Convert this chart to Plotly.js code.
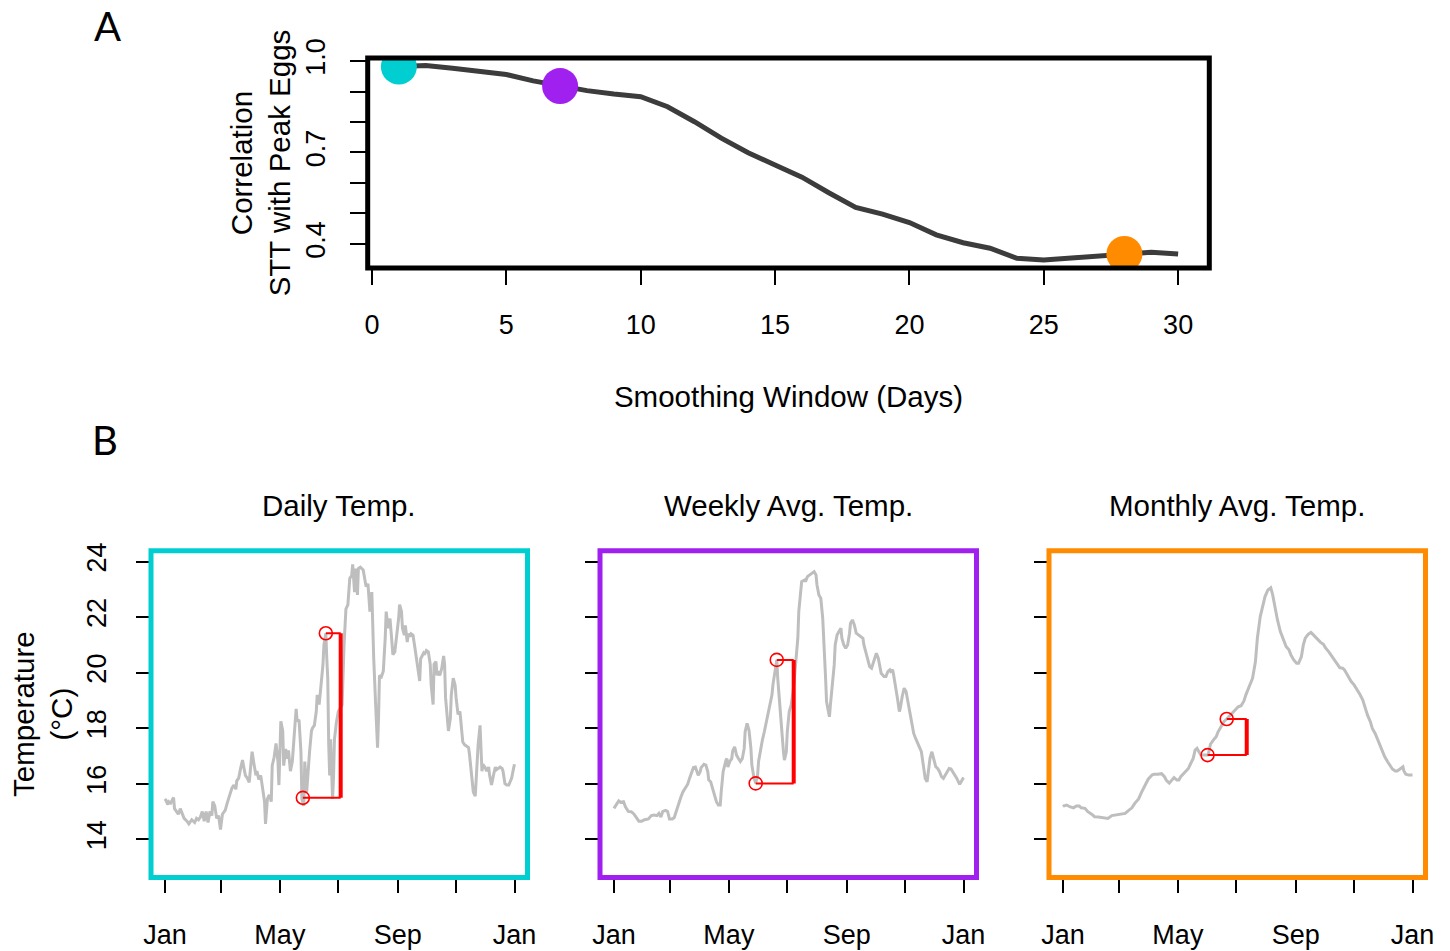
<!DOCTYPE html>
<html>
<head>
<meta charset="utf-8">
<script src="https://cdn.plot.ly/plotly-3.0.1.min.js"></script>
<style>
  html, body { margin: 0; padding: 0; background: #ffffff; }
  #chart { width: 1450px; height: 951px; }
</style>
</head>
<body>
<div id="chart"></div>
<script>
// ---------------- DATA ----------------
// Panel A: correlation of smoothed temperature (STT) with peak eggs
const smoothingWindow = [1, 2, 3, 4, 5, 6, 7, 8, 9, 10, 11, 12, 13, 14, 15, 16, 17, 18, 19, 20, 21, 22, 23, 24, 25, 26, 27, 28, 29, 30];
const correlation = [0.982, 0.985, 0.976, 0.968, 0.956, 0.935, 0.918, 0.903, 0.892, 0.883, 0.850, 0.801, 0.747, 0.699, 0.659, 0.619, 0.568, 0.520, 0.498, 0.470, 0.430, 0.404, 0.386, 0.353, 0.347, 0.353, 0.362, 0.367, 0.373, 0.367];
const highlightWindows = [1, 7, 28];

// Panel B: temperature series (day of year, °C)
const dailyDay = [0, 1, 3, 4, 6, 9, 10, 12, 14, 16, 18, 20, 23, 25, 28, 31, 33, 35, 37, 39, 41, 43, 45, 47, 49, 50, 52, 54, 56, 58, 60, 63, 65, 68, 70, 72, 74, 75, 77, 79, 81, 82, 84, 86, 88, 90, 91, 93, 95, 96, 98, 100, 102, 104, 105, 107, 109, 111, 112, 114, 116, 118, 119, 121, 123, 124, 126, 128, 129, 131, 133, 135, 137, 138, 140, 142, 143, 145, 146, 148, 150, 151, 153, 154, 156, 158, 159, 161, 162, 164, 165, 166, 168, 169, 170, 171, 172, 173, 175, 176, 177, 179, 181, 185, 187, 189, 191, 193, 195, 196, 198, 199, 201, 202, 204, 207, 209, 210, 212, 214, 216, 217, 218, 220, 222, 223, 224, 226, 228, 230, 231, 233, 235, 237, 238, 240, 242, 244, 245, 247, 248, 250, 251, 253, 254, 256, 257, 259, 261, 263, 264, 266, 267, 270, 271, 273, 275, 277, 278, 280, 281, 283, 284, 285, 287, 289, 291, 292, 293, 295, 296, 298, 299, 301, 303, 304, 306, 308, 310, 311, 313, 315, 317, 318, 320, 322, 324, 325, 327, 329, 330, 331, 332, 334, 336, 338, 339, 341, 343, 345, 346, 348, 350, 352, 353, 355, 357, 359, 360, 362, 364, 365];
const dailyTemp = [15.45, 15.4, 15.25, 15.35, 15.3, 15.5, 15.1, 15.0, 14.9, 15.1, 14.9, 14.75, 14.65, 14.55, 14.7, 14.6, 14.75, 14.7, 14.8, 15.0, 14.65, 15.0, 14.6, 15.0, 14.85, 15.35, 15.2, 14.75, 14.85, 14.35, 14.9, 15.05, 15.3, 15.6, 15.85, 15.95, 15.8, 16.1, 16.2, 16.55, 16.85, 16.65, 16.3, 16.2, 16.05, 16.8, 17.15, 16.7, 16.3, 16.45, 16.15, 16.3, 15.85, 15.35, 14.55, 15.45, 15.6, 15.35, 16.65, 16.95, 17.45, 16.8, 15.95, 18.25, 17.9, 16.65, 17.25, 16.9, 17.2, 16.45, 16.8, 17.95, 18.7, 18.25, 18.3, 17.15, 15.45, 15.2, 16.8, 15.7, 16.9, 17.15, 17.9, 18.0, 18.1, 18.6, 19.2, 18.85, 19.2, 19.8, 20.3, 21.0, 21.42, 20.5, 19.8, 17.4, 16.3, 17.6, 15.45, 16.2, 17.6, 18.2, 18.6, 18.84, 21.0, 22.3, 22.44, 23.4, 23.5, 23.9, 22.9, 23.75, 22.8, 23.75, 23.8, 23.7, 23.3, 23.1, 23.2, 22.2, 22.9, 21.6, 20.5, 18.85, 17.3, 18.35, 19.9, 19.85, 20.05, 21.25, 22.2, 21.6, 21.95, 21.1, 20.65, 20.75, 21.25, 21.95, 22.45, 22.2, 21.6, 21.35, 21.7, 21.1, 21.4, 21.3, 21.4, 21.35, 20.9, 20.4, 20.15, 19.7, 20.5, 20.7, 20.65, 20.8, 20.75, 20.3, 19.55, 18.85, 20.3, 20.4, 19.9, 20.05, 19.9, 20.15, 20.6, 20.3, 19.1, 18.1, 17.9, 18.35, 19.2, 19.8, 19.55, 19.1, 18.5, 18.6, 17.9, 17.5, 17.4, 17.35, 17.3, 17.05, 16.45, 15.7, 15.55, 16.2, 17.4, 18.1, 17.4, 16.45, 16.7, 16.6, 16.45, 16.6, 16.3, 15.95, 16.3, 16.6, 16.5, 16.55, 16.6, 16.55, 16.45, 16.0, 15.95, 15.95, 16.05, 16.2, 16.55, 16.7];

const weeklyDay = [0, 2, 5, 7, 10, 12, 15, 18, 21, 24, 26, 29, 32, 36, 39, 42, 45, 47, 49, 51, 54, 56, 58, 61, 63, 65, 67, 70, 72, 75, 77, 79, 81, 83, 85, 86, 88, 90, 91, 94, 96, 98, 99, 101, 103, 105, 107, 109, 111, 112, 114, 117, 118, 119, 121, 123, 124, 126, 128, 130, 132, 134, 136, 137, 139, 141, 143, 144, 146, 148, 150, 151, 153, 155, 157, 159, 161, 163, 165, 166, 168, 170, 171, 173, 175, 177, 178, 180, 181, 183, 185, 187, 189, 192, 193, 195, 196, 199, 200, 202, 204, 207, 209, 211, 212, 214, 216, 218, 219, 221, 222, 224, 225, 226, 228, 230, 231, 233, 235, 237, 238, 240, 242, 244, 246, 247, 249, 251, 253, 255, 257, 260, 261, 263, 265, 267, 269, 271, 273, 274, 276, 278, 279, 282, 284, 286, 288, 289, 291, 292, 294, 296, 298, 299, 301, 303, 305, 307, 309, 311, 313, 315, 317, 319, 321, 323, 325, 327, 328, 330, 332, 334, 336, 338, 340, 342, 344, 346, 348, 350, 352, 354, 356, 358, 360, 361, 363, 365];
const weeklyTemp = [15.11, 15.23, 15.38, 15.33, 15.35, 15.17, 15.0, 14.99, 14.9, 14.75, 14.65, 14.65, 14.7, 14.73, 14.85, 14.87, 14.85, 14.93, 14.8, 15.0, 15.04, 15.0, 14.73, 14.73, 14.78, 15.0, 15.23, 15.53, 15.7, 15.9, 15.98, 16.2, 16.43, 16.58, 16.6, 16.5, 16.3, 16.43, 16.58, 16.7, 16.67, 16.43, 16.13, 16.07, 15.83, 15.6, 15.35, 15.23, 15.23, 15.7, 16.43, 16.85, 16.9, 16.6, 16.8, 16.9, 17.18, 17.33, 17.03, 16.91, 16.8, 16.9, 17.27, 17.87, 18.17, 17.93, 17.27, 16.67, 16.25, 16.01, 16.31, 16.8, 17.27, 17.57, 17.87, 18.23, 18.47, 18.83, 19.2, 19.56, 20.04, 20.46, 19.8, 18.83, 17.87, 17.15, 16.85, 17.15, 17.87, 18.6, 18.83, 19.3, 20.04, 21.24, 22.2, 22.92, 23.28, 23.34, 23.28, 23.46, 23.52, 23.58, 23.64, 23.52, 23.16, 22.8, 22.68, 21.96, 21.0, 19.8, 18.95, 18.47, 18.41, 18.83, 19.56, 20.28, 21.0, 21.36, 21.48, 21.6, 21.24, 21.0, 20.88, 21.0, 21.42, 21.78, 21.9, 21.72, 21.42, 21.36, 21.33, 21.24, 21.0, 20.76, 20.52, 20.22, 20.16, 20.4, 20.64, 20.7, 20.52, 20.16, 19.98, 19.86, 19.86, 20.04, 20.1, 20.04, 20.1, 19.92, 19.56, 19.08, 18.6, 18.72, 19.14, 19.44, 19.32, 18.96, 18.47, 18.11, 17.81, 17.63, 17.45, 17.33, 17.15, 16.67, 16.19, 16.07, 16.43, 16.91, 17.15, 16.91, 16.61, 16.55, 16.43, 16.25, 16.19, 16.31, 16.43, 16.55, 16.53, 16.43, 16.31, 16.19, 16.05, 15.98, 16.1, 16.22];

const monthlyDay = [0, 1, 4, 7, 11, 14, 17, 19, 23, 26, 30, 33, 37, 40, 44, 47, 51, 54, 58, 61, 65, 68, 72, 75, 79, 82, 86, 89, 93, 95, 99, 103, 106, 108, 111, 114, 116, 119, 121, 123, 126, 129, 131, 133, 136, 138, 140, 142, 144, 147, 151, 152, 154, 157, 160, 162, 165, 168, 171, 173, 176, 180, 183, 186, 189, 191, 194, 196, 198, 201, 203, 206, 209, 211, 214, 217, 219, 221, 224, 227, 231, 233, 236, 238, 241, 244, 246, 249, 251, 253, 256, 259, 261, 264, 266, 269, 272, 274, 278, 281, 283, 286, 289, 292, 294, 296, 299, 301, 304, 307, 310, 313, 315, 318, 321, 323, 326, 328, 331, 334, 336, 339, 342, 344, 347, 349, 352, 355, 356, 358, 361, 363, 365];
const monthlyTemp = [15.17, 15.2, 15.23, 15.17, 15.13, 15.2, 15.2, 15.13, 15.11, 14.99, 14.9, 14.81, 14.8, 14.78, 14.75, 14.75, 14.85, 14.87, 14.87, 14.9, 14.93, 15.02, 15.13, 15.29, 15.45, 15.69, 15.93, 16.16, 16.31, 16.34, 16.34, 16.36, 16.25, 16.12, 16.02, 16.13, 16.22, 16.13, 16.13, 16.25, 16.37, 16.46, 16.55, 16.7, 16.91, 17.21, 17.27, 17.15, 17.03, 17.03, 17.03, 17.09, 17.42, 17.57, 17.69, 17.87, 18.05, 18.23, 18.33, 18.41, 18.53, 18.65, 18.77, 18.81, 18.98, 19.2, 19.44, 19.62, 19.8, 20.4, 21.24, 22.02, 22.44, 22.74, 22.98, 23.06, 22.8, 22.38, 21.9, 21.48, 21.12, 20.94, 20.82, 20.64, 20.46, 20.34, 20.34, 20.58, 21.0, 21.24, 21.38, 21.45, 21.38, 21.26, 21.18, 21.09, 21.02, 20.9, 20.73, 20.58, 20.46, 20.34, 20.18, 20.16, 20.1, 19.98, 19.8, 19.68, 19.56, 19.41, 19.22, 19.02, 18.78, 18.47, 18.23, 17.99, 17.81, 17.63, 17.39, 17.15, 16.97, 16.79, 16.65, 16.53, 16.46, 16.46, 16.53, 16.61, 16.46, 16.34, 16.31, 16.31, 16.31];

// Red brackets (order: daily, weekly, monthly)
const lowDay = [144, 148, 151];
const lowTemp = [15.49, 16.01, 17.03];
const highDay = [168, 170, 171];
const highTemp = [21.42, 20.46, 18.33];
const barDay = [183.5, 187.7, 191.9];

const panelTitles = ['Daily Temp.', 'Weekly Avg. Temp.', 'Monthly Avg. Temp.'];
const monthTickDays = [0, 59, 120, 181, 243, 304, 365];
const monthTickLabels = ['Jan', '', 'May', '', 'Sep', '', 'Jan'];
const corrTickVals = [0.4, 0.5, 0.6, 0.7, 0.8, 0.9, 1.0];
const corrTickText = ['0.4', '', '', '0.7', '', '', '1.0'];
const tempTickVals = [14, 16, 18, 20, 22, 24];

// ---------------- STYLE ----------------
const FONT = 'Liberation Sans, Arial, sans-serif';
const highlightColors = ['#00CED1', '#A020F0', '#FF8C00'];
const W = 1450, H = 951;
const px = v => v / W;
const py = v => 1 - v / H;

const traces = [];
// Panel A line
traces.push({
  x: smoothingWindow, y: correlation, type: 'scatter', mode: 'lines',
  line: { color: '#3c3c3c', width: 5 }, xaxis: 'x', yaxis: 'y', hoverinfo: 'x+y'
});
traces.push({
  x: highlightWindows,
  y: highlightWindows.map(w => correlation[smoothingWindow.indexOf(w)]),
  type: 'scatter', mode: 'markers',
  marker: { color: highlightColors, size: 36, line: { width: 0 } },
  xaxis: 'x', yaxis: 'y'
});

const series = [[dailyDay, dailyTemp], [weeklyDay, weeklyTemp], [monthlyDay, monthlyTemp]];
series.forEach((s, i) => {
  const xa = 'x' + (i + 2), ya = 'y' + (i + 2);
  traces.push({ x: s[0], y: s[1], type: 'scatter', mode: 'lines',
    line: { color: '#BEBEBE', width: 3 }, xaxis: xa, yaxis: ya });
  traces.push({ x: [lowDay[i], barDay[i], null, highDay[i], barDay[i]],
    y: [lowTemp[i], lowTemp[i], null, highTemp[i], highTemp[i]],
    type: 'scatter', mode: 'lines', line: { color: '#FF0000', width: 2 },
    xaxis: xa, yaxis: ya, connectgaps: false });
  traces.push({ x: [barDay[i], barDay[i]], y: [lowTemp[i], highTemp[i]],
    type: 'scatter', mode: 'lines', line: { color: '#FF0000', width: 4 },
    xaxis: xa, yaxis: ya });
  traces.push({ x: [lowDay[i], highDay[i]], y: [lowTemp[i], highTemp[i]],
    type: 'scatter', mode: 'markers',
    marker: { symbol: 'circle-open', color: '#FF0000', size: 13, line: { width: 1.6, color: '#FF0000' } },
    xaxis: xa, yaxis: ya });
});

const baseAxis = {
  showgrid: false, zeroline: false, showline: false,
  ticks: 'outside', tickcolor: '#000', tickwidth: 2,
  tickfont: { family: FONT, size: 27, color: '#000' }
};

const layout = {
  width: W, height: H,
  margin: { l: 0, r: 0, t: 0, b: 0 },
  paper_bgcolor: '#ffffff', plot_bgcolor: '#ffffff',
  showlegend: false,
  font: { family: FONT, color: '#000' },
  xaxis: Object.assign({}, baseAxis, {
    domain: [px(367.7), px(1209.3)], range: [-0.16, 31.16], anchor: 'y',
    tickvals: [0, 5, 10, 15, 20, 25, 30], ticklen: 16, ticklabelstandoff: 17,
    title: { text: 'Smoothing Window (Days)', font: { family: FONT, size: 29.5 }, standoff: 46 }
  }),
  yaxis: Object.assign({}, baseAxis, {
    domain: [py(268), py(58)], range: [0.321, 1.010], anchor: 'x',
    tickvals: corrTickVals, ticktext: corrTickText, tickangle: -90, ticklen: 17, ticklabelstandoff: 14,
    title: { text: 'Correlation<br>STT with Peak Eggs', font: { family: FONT, size: 29.5 }, standoff: 1 }
  }),
  shapes: [],
  annotations: [
    { text: 'A', x: px(107), y: py(26), xref: 'paper', yref: 'paper', showarrow: false,
      xanchor: 'center', yanchor: 'middle', font: { family: 'Lato, sans-serif', size: 40, color: '#000' } },
    { text: 'B', x: px(105), y: py(440), xref: 'paper', yref: 'paper', showarrow: false,
      xanchor: 'center', yanchor: 'middle', font: { family: 'Lato, sans-serif', size: 40, color: '#000' } }
  ]
};

// Box for panel A
layout.shapes.push({ type: 'rect', xref: 'x domain', yref: 'y domain', x0: 0, x1: 1, y0: 0, y1: 1,
  line: { color: '#000', width: 5 }, layer: 'above' });

const bLeft = [151, 600, 1049];
const bWidth = 376.5;
for (let i = 0; i < 3; i++) {
  const n = i + 2;
  layout['xaxis' + n] = Object.assign({}, baseAxis, {
    domain: [px(bLeft[i]), px(bLeft[i] + bWidth)], range: [-14.56, 378.56], anchor: 'y' + n,
    tickvals: monthTickDays, ticktext: monthTickLabels, ticklen: 14, ticklabelstandoff: 19
  });
  layout['yaxis' + n] = Object.assign({}, baseAxis, {
    domain: [py(877.5), py(550.8)], range: [12.62, 24.39], anchor: 'x' + n,
    tickvals: tempTickVals, tickangle: -90, ticklen: 14, ticklabelstandoff: 19,
    showticklabels: i === 0
  });
  if (i === 0) {
    layout.yaxis2.title = { text: 'Temperature<br>(°C)', font: { family: FONT, size: 29.5 }, standoff: 0 };
  }
  layout.shapes.push({ type: 'rect', xref: 'x' + n + ' domain', yref: 'y' + n + ' domain',
    x0: 0, x1: 1, y0: 0, y1: 1, line: { color: highlightColors[i], width: 5 }, layer: 'above' });
  layout.annotations.push({ text: panelTitles[i], x: px(bLeft[i] + bWidth / 2), y: py(505),
    xref: 'paper', yref: 'paper', showarrow: false, xanchor: 'center', yanchor: 'middle',
    font: { family: FONT, size: 29.5, color: '#000' } });
}

Plotly.newPlot('chart', traces, layout, { displayModeBar: false, staticPlot: true });
</script>
</body>
</html>
